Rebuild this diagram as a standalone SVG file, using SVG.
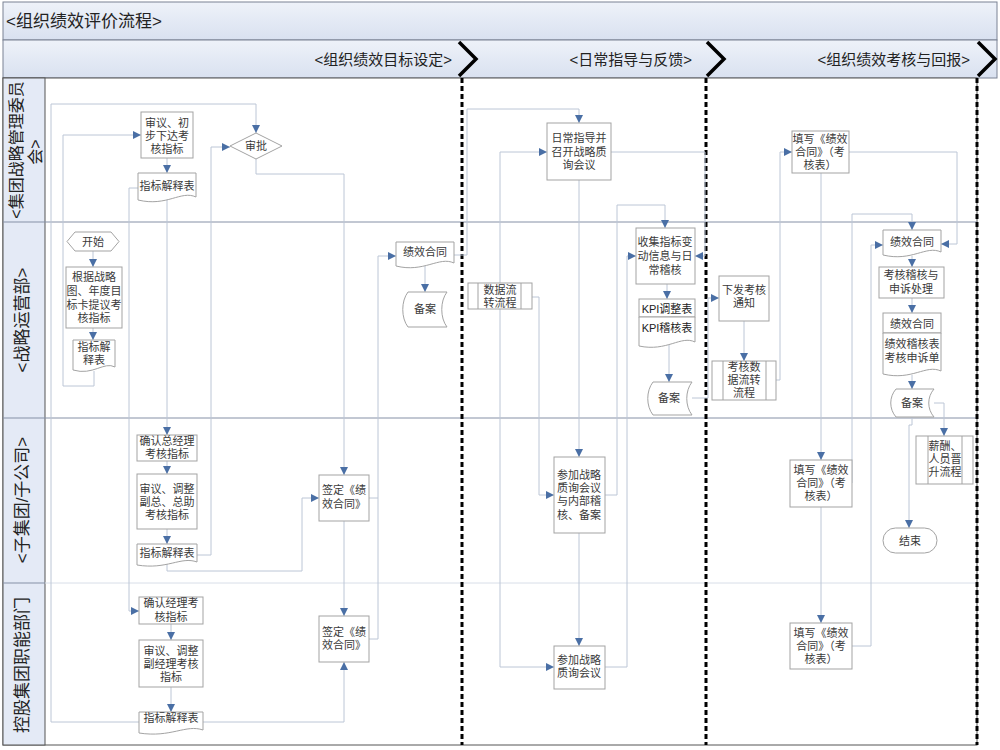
<svg xmlns="http://www.w3.org/2000/svg" width="1000" height="750" viewBox="0 0 1000 750">
<defs>
<marker id="ar" markerUnits="userSpaceOnUse" markerWidth="9" markerHeight="9" refX="8" refY="4" orient="auto"><path d="M0,0 L8,4 L0,8 z" fill="#4a6fa5"/></marker>
<linearGradient id="hg" x1="0" y1="0" x2="0" y2="1"><stop offset="0" stop-color="#eef2f9"/><stop offset="1" stop-color="#d9e1f0"/></linearGradient>
</defs>
<style>
.bx{fill:#fff;stroke:#a3a3a3;stroke-width:1}
.t{font-family:"Liberation Sans","Noto Sans CJK SC",sans-serif;font-size:11px;fill:#3a3a3a;text-anchor:middle}
.k{font-family:"Liberation Sans","Noto Sans CJK SC",sans-serif;font-size:11px;fill:#222;text-anchor:middle}
.c{fill:none;stroke:#bcc6d6;stroke-width:1}
.ca{fill:none;stroke:#bcc6d6;stroke-width:1;marker-end:url(#ar)}
.lt{font-family:"Liberation Sans","Noto Sans CJK SC",sans-serif;font-size:17px;fill:#222;text-anchor:middle}
.ph{font-family:"Liberation Sans","Noto Sans CJK SC",sans-serif;font-size:15px;fill:#222;text-anchor:end}
.dl{stroke:#000;stroke-width:3;stroke-dasharray:5 3;fill:none}
.cv{fill:none;stroke:#000;stroke-width:3.5;stroke-linejoin:miter}
</style>
<rect x="0" y="0" width="1000" height="750" fill="#fff"/>
<g id="frame">
<rect x="3" y="2" width="994" height="38" fill="url(#hg)" stroke="#7a8294"/>
<text x="6" y="27" font-family="Liberation Sans, Noto Sans CJK SC, sans-serif" font-size="17" fill="#222">&lt;组织绩效评价流程&gt;</text>
<rect x="3" y="40" width="994" height="38" fill="url(#hg)" stroke="#7a8294"/>
<rect x="3" y="78" width="974" height="667" fill="#fff" stroke="#555"/>
<rect x="3" y="78" width="42" height="667" fill="#e4eaf6" stroke="#555"/>
<line x1="3" y1="222" x2="977" y2="222" stroke="#8590a6"/>
<line x1="3" y1="418" x2="977" y2="418" stroke="#8590a6"/>
<line x1="3" y1="583" x2="45" y2="583" stroke="#8590a6"/>
<line x1="45" y1="583" x2="977" y2="583" stroke="#d8dee8"/>
<text class="ph" x="452" y="65">&lt;组织绩效目标设定&gt;</text>
<text class="ph" x="692" y="65">&lt;日常指导与反馈&gt;</text>
<text class="ph" x="970" y="65">&lt;组织绩效考核与回报&gt;</text>
<polyline class="cv" points="459,42 476,59 459,76"/>
<polyline class="cv" points="707,42 724,59 707,76"/>
<polyline class="cv" points="978,42 995,59 978,76"/>
<line class="dl" x1="462" y1="78" x2="462" y2="745"/>
<line class="dl" x1="706" y1="78" x2="706" y2="745"/>
<line class="dl" x1="977" y1="78" x2="977" y2="745"/>
<text class="lt" style="font-size:16px" transform="translate(22,150) rotate(-90)">&lt;集团战略管理委员</text>
<text class="lt" style="font-size:16px" transform="translate(41,152) rotate(-90)">会&gt;</text>
<text class="lt" transform="translate(28,320) rotate(-90)">&lt;战略运营部&gt;</text>
<text class="lt" transform="translate(28,500) rotate(-90)">&lt;子集团/子公司&gt;</text>
<text class="lt" transform="translate(28,665) rotate(-90)">控股集团职能部门</text>
</g>
<g id="connectors">
<polyline class="ca" points="167,158 167,173"/>
<polyline class="ca" points="94,371 94,386 63,386 63,135 141,135"/>
<polyline class="ca" points="93,251 93,267"/>
<polyline class="ca" points="93,328 93,340"/>
<polyline class="ca" points="167,199 167,435"/>
<polyline class="ca" points="138,188 129,188 129,611 139,611"/>
<polyline class="ca" points="167,461 167,474"/>
<polyline class="ca" points="167,529 167,544"/>
<polyline class="ca" points="197,555 211,555 211,147 230,147"/>
<polyline class="ca" points="167,564 167,571 302,571 302,498 319,498"/>
<polyline class="ca" points="171,624 171,640"/>
<polyline class="ca" points="171,687 171,712"/>
<polyline class="ca" points="203,722 344,722 344,662"/>
<polyline class="ca" points="139,722 51,722 51,104 256,104 256,133"/>
<polyline class="ca" points="256,159 256,174 344,174 344,475"/>
<polyline class="ca" points="344,521 344,616"/>
<polyline class="ca" points="369,498 378,498 378,256 396,256"/>
<polyline class="c" points="369,639 378,639 378,498"/>
<polyline class="ca" points="425,266 425,292"/>
<polyline class="ca" points="454,255 467,255 467,109 579,109 579,123"/>
<polyline class="ca" points="500,283 500,152 547,152"/>
<polyline class="ca" points="500,309 500,667 554,667"/>
<polyline class="ca" points="532,297 539,297 539,495 554,495"/>
<polyline class="ca" points="579,180 579,457"/>
<polyline class="ca" points="579,533 579,646"/>
<polyline class="ca" points="605,495 617,495 617,205 665,205 665,228"/>
<polyline class="ca" points="605,667 627,667 627,256 636,256"/>
<polyline class="ca" points="611,152 705,152 705,256 695,256"/>
<polyline class="ca" points="667,284 667,299"/>
<polyline class="ca" points="669,345 669,382"/>
<polyline class="ca" points="692,398 708,398 708,298 719,298"/>
<polyline class="ca" points="744,321 744,361"/>
<polyline class="ca" points="776,380 780,380 780,152 792,152"/>
<polyline class="ca" points="821,173 821,460"/>
<polyline class="ca" points="821,507 821,623"/>
<polyline class="ca" points="849,152 957,152 957,244 941,244"/>
<polyline class="ca" points="852,483 852,214 912,214 912,230"/>
<polyline class="ca" points="852,646 871,646 871,245 883,245"/>
<polyline class="ca" points="912,256 912,267"/>
<polyline class="ca" points="912,298 912,313"/>
<polyline class="ca" points="912,375 912,389"/>
<polyline class="ca" points="934,403 944,403 944,436"/>
<polyline class="ca" points="912,417 912,425 909,425 909,528"/>
</g>
<g id="n1"><rect class="bx" x="141" y="112" width="52" height="46"/><text class="t" x="167" y="127">审议、初</text><text class="t" x="167" y="140">步下达考</text><text class="t" x="167" y="153">核指标</text></g>
<g id="n2"><path class="bx" d="M138,173 H196 V197 C181,190 167,207 138,200 Z"/><text class="t" x="167" y="190">指标解释表</text></g>
<g id="n3"><polygon class="bx" points="230,146 256,133 282,146 256,159"/><text class="t" x="256" y="150">审批</text></g>
<g id="n4"><rect class="bx" x="547" y="123" width="64" height="57"/><text class="t" x="579" y="142">日常指导并</text><text class="t" x="579" y="156">召开战略质</text><text class="t" x="579" y="169">询会议</text></g>
<g id="n5"><rect class="bx" x="792" y="131" width="57" height="42"/><text class="t" x="820" y="143">填写《绩效</text><text class="t" x="820" y="156">合同》（考</text><text class="t" x="820" y="169">核表）</text></g>
<g id="n6"><polygon class="bx" points="67,241.5 75,232 111,232 119,241.5 111,251 75,251"/><text class="t" x="93" y="245.5">开始</text></g>
<g id="n7"><rect class="bx" x="66" y="267" width="56" height="61"/><text class="t" x="94" y="281">根据战略</text><text class="t" x="94" y="295">图、年度目</text><text class="t" x="94" y="309">标卡提议考</text><text class="t" x="94" y="322">核指标</text></g>
<g id="n8"><path class="bx" d="M73,340 H115 V367 C104,361 93,376 73,370 Z"/><text class="t" x="94" y="351">指标解</text><text class="t" x="94" y="364">释表</text></g>
<g id="n9"><path class="bx" d="M396,242 H454 V263 C439,256 424,273 396,266 Z"/><text class="t" x="425" y="256">绩效合同</text></g>
<g id="n10"><path class="bx" d="M408,292 H447 C440,301 440,318 447,327 H408 C401,318 401,301 408,292 Z"/><text class="t" x="425" y="313">备案</text></g>
<g id="n11"><rect class="bx" x="468" y="283" width="64" height="26"/><line x1="478" y1="283" x2="478" y2="309" stroke="#a3a3a3"/><line x1="521" y1="283" x2="521" y2="309" stroke="#a3a3a3"/><text class="t" x="500" y="294">数据流</text><text class="t" x="500" y="307">转流程</text></g>
<g id="n12"><rect class="bx" x="636" y="228" width="59" height="56"/><text class="t" x="665" y="246">收集指标变</text><text class="t" x="665" y="260">动信息与日</text><text class="t" x="665" y="274">常稽核</text></g>
<g id="n13"><rect class="bx" x="639" y="299" width="56" height="18"/><path class="bx" d="M639,317 H695 V342 C681,335 667,352 639,346 Z"/><text class="k" x="667" y="313">KPI调整表</text><text class="k" x="667" y="332">KPI稽核表</text></g>
<g id="n14"><path class="bx" d="M653,382 H692 C685,391 685,406 692,415 H653 C646,406 646,391 653,382 Z"/><text class="t" x="669" y="402">备案</text></g>
<g id="n15"><rect class="bx" x="719" y="276" width="50" height="45"/><text class="t" x="744" y="294">下发考核</text><text class="t" x="744" y="307">通知</text></g>
<g id="n16"><rect class="bx" x="712" y="361" width="64" height="39"/><line x1="723" y1="361" x2="723" y2="400" stroke="#a3a3a3"/><line x1="766" y1="361" x2="766" y2="400" stroke="#a3a3a3"/><text class="t" x="744" y="371">考核数</text><text class="t" x="744" y="384">据流转</text><text class="t" x="744" y="397">流程</text></g>
<g id="n17"><path class="bx" d="M883,230 H941 V252 C926,245 912,262 883,255 Z"/><text class="t" x="912" y="246">绩效合同</text></g>
<g id="n18"><rect class="bx" x="879" y="267" width="65" height="31"/><text class="t" x="911" y="279">考核稽核与</text><text class="t" x="911" y="293">申诉处理</text></g>
<g id="n19"><rect class="bx" x="883" y="313" width="58" height="20"/><path class="bx" d="M883,333 H941 V371 C926,364 912,381 883,374 Z"/><text class="t" x="912" y="328">绩效合同</text><text class="t" x="912" y="348">绩效稽核表</text><text class="t" x="912" y="362">考核申诉单</text></g>
<g id="n20"><path class="bx" d="M896,389 H934 C927,397 927,409 934,417 H896 C889,409 889,397 896,389 Z"/><text class="t" x="912" y="407">备案</text></g>
<g id="n21"><rect class="bx" x="916" y="436" width="57" height="48"/><line x1="928" y1="436" x2="928" y2="484" stroke="#a3a3a3"/><line x1="962" y1="436" x2="962" y2="484" stroke="#a3a3a3"/><text class="t" x="945" y="450">薪酬、</text><text class="t" x="945" y="463">人员晋</text><text class="t" x="945" y="476">升流程</text></g>
<g id="n22"><rect class="bx" x="883" y="528" width="54" height="25" rx="12.5"/><text class="t" x="910" y="545">结束</text></g>
<g id="n23"><rect class="bx" x="137" y="435" width="60" height="26"/><text class="t" x="167" y="445">确认总经理</text><text class="t" x="167" y="458">考核指标</text></g>
<g id="n24"><rect class="bx" x="137" y="474" width="60" height="55"/><text class="t" x="167" y="493">审议、调整</text><text class="t" x="167" y="506">副总、总助</text><text class="t" x="167" y="519">考核指标</text></g>
<g id="n25"><path class="bx" d="M137,544 H197 V562 C181,556 167,570 137,565 Z"/><text class="t" x="167" y="557">指标解释表</text></g>
<g id="n26"><rect class="bx" x="319" y="475" width="50" height="46"/><text class="t" x="344" y="494">签定《绩</text><text class="t" x="344" y="508">效合同》</text></g>
<g id="n27"><rect class="bx" x="554" y="457" width="51" height="76"/><text class="t" x="579" y="479">参加战略</text><text class="t" x="579" y="492">质询会议</text><text class="t" x="579" y="505">与内部稽</text><text class="t" x="579" y="519">核、备案</text></g>
<g id="n28"><rect class="bx" x="790" y="460" width="62" height="47"/><text class="t" x="821" y="474">填写《绩效</text><text class="t" x="821" y="487">合同》（考</text><text class="t" x="821" y="500">核表）</text></g>
<g id="n29"><rect class="bx" x="139" y="597" width="64" height="27"/><text class="t" x="171" y="607">确认经理考</text><text class="t" x="171" y="621">核指标</text></g>
<g id="n30"><rect class="bx" x="139" y="640" width="64" height="47"/><text class="t" x="171" y="655">审议、调整</text><text class="t" x="171" y="668">副经理考核</text><text class="t" x="171" y="681">指标</text></g>
<g id="n31"><path class="bx" d="M139,712 H203 V730 C186,724 171,738 139,733 Z"/><text class="t" x="171" y="722">指标解释表</text></g>
<g id="n32"><rect class="bx" x="319" y="616" width="50" height="46"/><text class="t" x="344" y="636">签定《绩</text><text class="t" x="344" y="649">效合同》</text></g>
<g id="n33"><rect class="bx" x="554" y="646" width="51" height="43"/><text class="t" x="579" y="664">参加战略</text><text class="t" x="579" y="677">质询会议</text></g>
<g id="n34"><rect class="bx" x="790" y="623" width="62" height="46"/><text class="t" x="821" y="637">填写《绩效</text><text class="t" x="821" y="650">合同》（考</text><text class="t" x="821" y="663">核表）</text></g>
</svg>
